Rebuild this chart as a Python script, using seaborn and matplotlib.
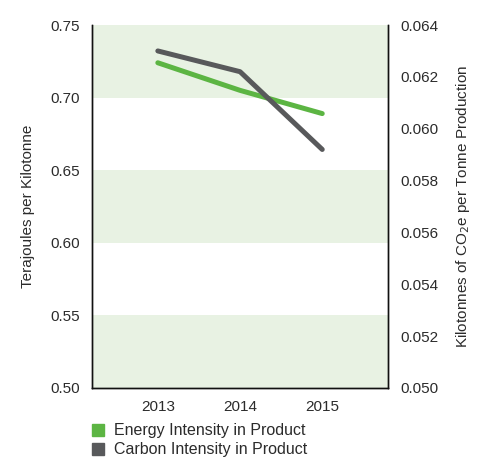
import matplotlib
matplotlib.use("Agg")
import matplotlib.pyplot as plt
import matplotlib.patches as mpatches
import seaborn as sns
import pandas as pd

years = [2013, 2014, 2015]
energy_intensity = [0.724, 0.705, 0.689]
carbon_intensity = [0.0630, 0.0622, 0.0592]
band_ranges = [(0.50, 0.55), (0.60, 0.65), (0.70, 0.75)]

GREEN = "#5cb543"
GREY = "#58595b"
BAND = "#e8f2e3"
TEXT = "#2b2b2b"

sns.set_style("white")
plt.rcParams['font.family'] = ['Liberation Sans', 'DejaVu Sans']

df = pd.DataFrame({"year": years, "energy": energy_intensity, "carbon": carbon_intensity})

fig = plt.figure(figsize=(4.82, 4.59), dpi=100)
ax = fig.add_axes([0.191, 0.1547, 0.614, 0.7908])
ax2 = ax.twinx()

for lo, hi in band_ranges:
    ax.axhspan(lo, hi, color=BAND, lw=0, zorder=0)

sns.lineplot(data=df, x="year", y="energy", ax=ax, color=GREEN, linewidth=3.6, zorder=3)
sns.lineplot(data=df, x="year", y="carbon", ax=ax2, color=GREY, linewidth=3.6, zorder=3)

ax.set_xlim(2012.2, 2015.8)
ax.set_ylim(0.50, 0.75)
ax2.set_ylim(0.050, 0.064)
ax.set_xticks(years)
ax.set_xticklabels([str(y) for y in years])
ax.set_yticks([0.50, 0.55, 0.60, 0.65, 0.70, 0.75])
ax.set_yticklabels([f"{v:.2f}" for v in [0.50, 0.55, 0.60, 0.65, 0.70, 0.75]])
ax2.set_yticks([0.050, 0.052, 0.054, 0.056, 0.058, 0.060, 0.062, 0.064])
ax2.set_yticklabels([f"{v:.3f}" for v in [0.050, 0.052, 0.054, 0.056, 0.058, 0.060, 0.062, 0.064]])

for a in (ax, ax2):
    a.tick_params(length=0, labelsize=11, colors=TEXT, pad=9)
    a.spines['top'].set_visible(False)
    for s in ('left', 'right', 'bottom'):
        a.spines[s].set_color("#111111")
        a.spines[s].set_linewidth(1.0)
    a.set_xlabel("")

ax.set_ylabel("Terajoules per Kilotonne", fontsize=11, color=TEXT, labelpad=11)
ax2.set_ylabel("Kilotonnes of CO$_2$e per Tonne Production", fontsize=11, color=TEXT, labelpad=11)

handles = [mpatches.Patch(color=GREEN, label="Energy Intensity in Product"),
           mpatches.Patch(color=GREY, label="Carbon Intensity in Product")]
leg = fig.legend(handles=handles, loc="upper left", bbox_to_anchor=(0.19, 0.078),
                 frameon=False, fontsize=11.5, handlelength=0.75, handleheight=0.8,
                 handletextpad=0.65, labelspacing=0.25, borderaxespad=0, borderpad=0)
for t in leg.get_texts():
    t.set_color(TEXT)

fig.savefig("out.png", dpi=100)
